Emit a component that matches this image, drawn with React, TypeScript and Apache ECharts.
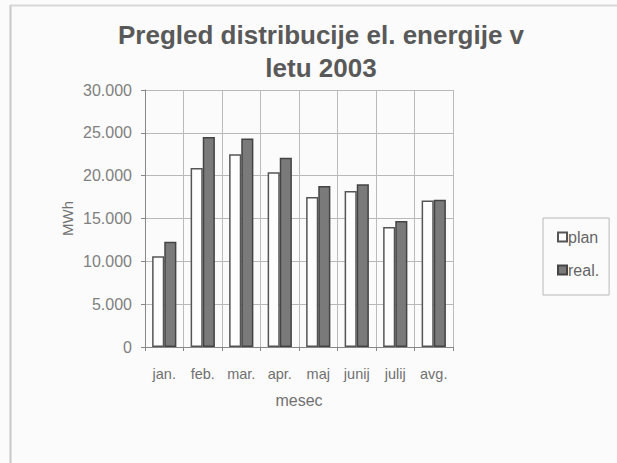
import React, { useEffect, useRef } from "react";
import * as echarts from "echarts";

const titleText = "Pregled distribucije el. energije v\nletu 2003";
const categories = ["jan.", "feb.", "mar.", "apr.", "maj", "junij", "julij", "avg."];
const planValues = [10600, 20900, 22500, 20400, 17500, 18200, 14000, 17100];
const realValues = [12300, 24500, 24350, 22100, 18800, 19000, 14700, 17200];
const seriesNames = ["plan", "real."];
const xAxisName = "mesec";
const yAxisName = "MWh";

function fmt(v: number): string {
  const s = Math.round(v).toString();
  return s.replace(/\B(?=(\d{3})+(?!\d))/g, ".");
}

export default function App() {
  const ref = useRef<HTMLDivElement>(null);
  useEffect(() => {
    document.body.style.margin = "0";
    const chart = echarts.init(ref.current!, null, { renderer: "svg" });
    const font = "Liberation Sans, Arial, sans-serif";
    chart.setOption({
      animation: false,
      backgroundColor: "#fbfbfb",
      textStyle: { fontFamily: font },
      title: {
        text: titleText,
        left: 316,
        textAlign: "center",
        top: 13,
        textStyle: { fontFamily: font, fontSize: 26, fontWeight: "bold", color: "#595959", lineHeight: 33 },
      },
      graphic: [
        { type: "line", shape: { x1: 10.5, y1: 5, x2: 10.5, y2: 463 }, style: { stroke: "#c8c8c8", lineWidth: 2 } },
        { type: "line", shape: { x1: 10, y1: 5.5, x2: 617, y2: 5.5 }, style: { stroke: "#d8d8d8", lineWidth: 2 } },
      ],
      legend: {
        orient: "vertical",
        left: 543,
        top: 218,
        padding: [11, 10, 17, 14],
        itemGap: 17,
        itemWidth: 9,
        itemHeight: 9,
        borderColor: "#b8b8b8",
        borderWidth: 1,
        textStyle: { fontFamily: font, fontSize: 16, color: "#666", padding: [0, 0, 0, -4] },
        data: seriesNames.map((n) => ({ name: n, icon: "rect" })),
      },
      grid: { left: 145, right: 164, top: 90, bottom: 116, containLabel: false },
      xAxis: {
        type: "category",
        data: categories,
        name: xAxisName,
        nameLocation: "middle",
        nameGap: 45,
        nameTextStyle: { fontFamily: font, fontSize: 16, color: "#707070" },
        axisLine: { lineStyle: { color: "#888" } },
        axisTick: { show: true, length: 4, lineStyle: { color: "#888" } },
        axisLabel: { fontFamily: font, fontSize: 14.5, color: "#707070", margin: 19 },
        splitLine: { show: true, lineStyle: { color: "#bbb", width: 1 } },
      },
      yAxis: {
        type: "value",
        min: 0,
        max: 30000,
        interval: 5000,
        name: yAxisName,
        nameLocation: "middle",
        nameGap: 70,
        nameRotate: 90,
        nameTextStyle: { fontFamily: font, fontSize: 15, color: "#707070" },
        axisLine: { show: true, lineStyle: { color: "#888" } },
        axisTick: { show: true, length: 4, lineStyle: { color: "#888" } },
        axisLabel: { fontFamily: font, fontSize: 16, color: "#808080", margin: 13, formatter: (v: number) => fmt(v) },
        splitLine: { show: true, lineStyle: { color: "#b8b8b8", width: 1 } },
      },
      series: [
        {
          name: seriesNames[0],
          type: "bar",
          data: planValues,
          barGap: "0%",
          barCategoryGap: "37%",
          itemStyle: { color: "#fdfdfd", borderColor: "#555", borderWidth: 1.5 },
        },
        {
          name: seriesNames[1],
          type: "bar",
          data: realValues,
          itemStyle: { color: "#7a7a7a", borderColor: "#444", borderWidth: 1.5 },
        },
      ],
    });
    return () => chart.dispose();
  }, []);
  return <div ref={ref} style={{ width: 617, height: 463 }} />;
}
